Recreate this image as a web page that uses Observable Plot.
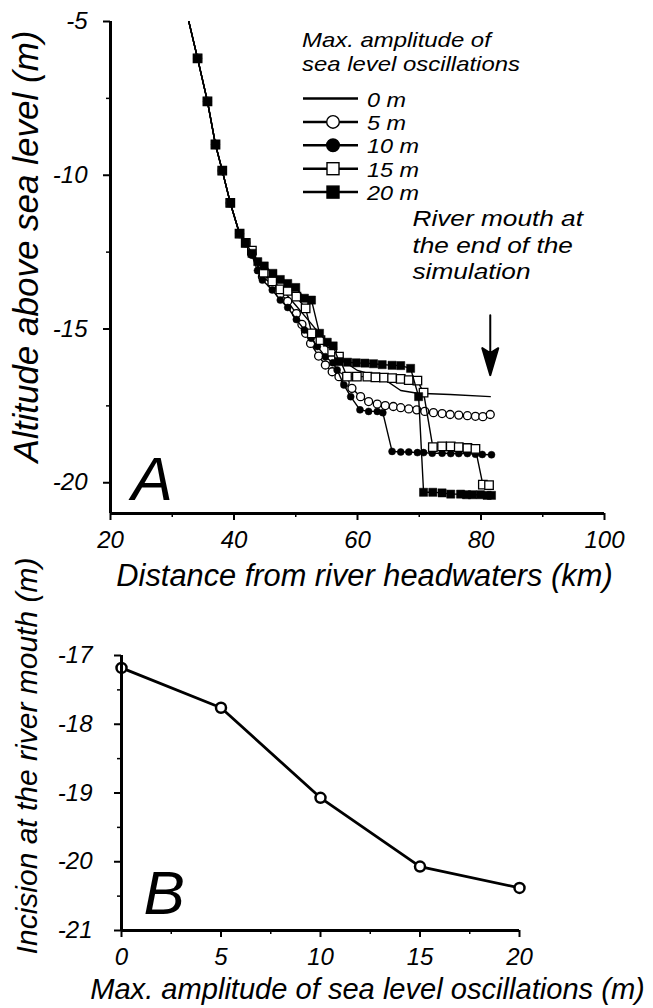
<!DOCTYPE html>
<html><head><meta charset="utf-8">
<script src="https://cdn.jsdelivr.net/npm/d3@7"></script>
<script src="https://cdn.jsdelivr.net/npm/@observablehq/plot@0.6"></script>
<style>
body{margin:0;background:#fff;}
#wrap{position:relative;width:653px;height:1008px;overflow:hidden;font-family:"Liberation Sans",Arial,sans-serif;background:#fff;}
#a{position:absolute;left:0;top:0}
#b{position:absolute;left:0;top:530px}
#legend{position:absolute;left:0;top:0}
</style></head><body><div id="wrap"><div id="a"></div><div id="b"></div><svg id="legend" width="653" height="210"></svg></div>
<script>
// ---------- Panel A data: distance (km) and altitude (m) ----------
const upperKm  = [31.5, 34.1, 35.7, 37.0, 38.1, 39.4, 40.9, 41.9];
const upperAlt = [-4.0, -6.2, -7.6, -9.0, -9.85, -10.9, -11.9, -12.2];

const km0  = [44.6, 47.5, 50.1, 52.4, 54.8, 57.0, 60.0, 63.7, 67.0, 69.7, 75.0, 81.5];
const alt0 = [-13.2, -13.65, -14.25, -14.8, -15.4, -15.95, -16.35, -16.55, -17.0, -17.09, -17.13, -17.2];

const km5  = [42.9, 44.6, 46.2, 47.5, 48.7, 50.1, 51.0, 51.6, 52.4, 53.7, 54.8, 55.9, 57.0, 58.0, 59.1, 60.5, 61.8, 63.2, 64.5, 65.8, 67.0, 68.3, 69.6, 70.9, 72.3, 73.7, 75.0, 76.4, 77.8, 79.1, 80.3, 81.5];
const alt5 = [-12.55, -13.3, -13.55, -13.85, -14.1, -14.5, -14.85, -15.14, -15.47, -15.88, -16.17, -16.39, -16.55, -16.75, -16.93, -17.2, -17.36, -17.44, -17.49, -17.52, -17.56, -17.6, -17.63, -17.68, -17.72, -17.75, -17.78, -17.8, -17.82, -17.84, -17.85, -17.78];

const km10  = [42.9, 43.8, 44.6, 46.2, 47.5, 48.7, 50.1, 51.4, 52.5, 53.5, 54.8, 56.0, 56.7, 57.8, 58.9, 60.4, 61.8, 63.2, 64.1, 65.6, 67.0, 68.3, 69.7, 70.7, 72.1, 73.7, 75.1, 76.4, 77.8, 79.1, 80.2, 81.7];
const alt10 = [-12.6, -13.1, -13.41, -13.73, -14.06, -14.3, -14.69, -15.03, -15.3, -15.57, -15.9, -16.1, -16.33, -16.82, -17.2, -17.63, -17.68, -17.68, -17.72, -18.98, -19.0, -19.0, -19.02, -19.02, -19.04, -19.04, -19.05, -19.05, -19.05, -19.07, -19.08, -19.09];

const km15  = [42.9, 44.8, 46.2, 47.5, 48.7, 50.1, 51.6, 52.6, 54.0, 55.9, 57.0, 58.3, 59.9, 61.6, 62.9, 64.3, 65.6, 67.0, 68.3, 69.7, 70.7, 72.2, 73.7, 75.1, 76.4, 77.8, 79.1, 80.3, 81.3];
const alt15 = [-12.45, -13.17, -13.45, -13.71, -13.76, -13.95, -14.33, -15.14, -15.36, -15.74, -15.9, -16.55, -16.55, -16.55, -16.57, -16.58, -16.6, -16.62, -16.66, -16.68, -17.07, -18.84, -18.82, -18.82, -18.84, -18.87, -18.9, -20.06, -20.08];

const km20  = [42.9, 43.85, 44.9, 46.3, 47.5, 48.7, 50.0, 51.4, 52.55, 53.85, 55.1, 56.06, 57.0, 58.4, 59.8, 61.2, 62.6, 64.0, 65.6, 67.0, 68.6, 69.9, 70.7, 72.2, 73.7, 75.1, 76.7, 77.65, 78.6, 79.9, 81.0, 81.7];
const alt20 = [-12.54, -12.81, -12.95, -13.19, -13.39, -13.52, -13.65, -14.0, -14.06, -15.14, -15.43, -15.55, -16.06, -16.08, -16.1, -16.11, -16.13, -16.16, -16.18, -16.19, -16.28, -17.2, -20.31, -20.31, -20.33, -20.37, -20.37, -20.39, -20.39, -20.39, -20.41, -20.41];

const amplitudes = [0, 5, 10, 15, 20];
const legendLabels = ["0 m", "5 m", "10 m", "15 m", "20 m"];
const legendTitle = ["Max. amplitude of", "sea level oscillations"];

const xTicksA = [20, 40, 60, 80, 100], xMinorA = [30, 50, 70, 90];
const yTicksA = [-5, -10, -15, -20], yMinorA = [-7.5, -12.5, -17.5];

const mouthKm = [81.5];          // river mouth position (arrow)
const mouthNote = "River mouth at\nthe end of the\nsimulation";

// ---------- Panel B data ----------
const ampB = [0, 5, 10, 15, 20];
const incisionB = [-17.18, -17.76, -19.07, -20.07, -20.38];
const xTicksB = [0, 5, 10, 15, 20], xMinorB = [2.5, 7.5, 12.5, 17.5];
const yTicksB = [-17, -18, -19, -20, -21], yMinorB = [-17.5, -18.5, -19.5, -20.5];

// ---------- build tables ----------
const seriesKm = [km0, km5, km10, km15, km20];
const seriesAlt = [alt0, alt5, alt10, alt15, alt20];
const rows = [];
amplitudes.forEach((a, i) => {
  const k = upperKm.concat(seriesKm[i]);
  const v = upperAlt.concat(seriesAlt[i]);
  k.forEach((d, j) => rows.push({amp: a, km: d, alt: v[j]}));
});
const rowsOf = a => rows.filter(r => r.amp === a);
const bRows = ampB.map((a, i) => ({amp: a, inc: incisionB[i]}));

const font = '"Liberation Sans", Arial, sans-serif';
const fmt = d => String(d);

// horizontally widen a text element (the figure's lettering is slightly stretched)
function widen(el, factor) {
  const w = el.getComputedTextLength();
  if (w > 0) { el.setAttribute("textLength", (w * factor).toFixed(1)); el.setAttribute("lengthAdjust", "spacingAndGlyphs"); }
}

const arrowShape = {
  draw(ctx, l) {
    ctx.moveTo(0, 0); ctx.lineTo(0, -l + 20);
    ctx.moveTo(0, -l);
    ctx.lineTo(-8, -l + 27);
    ctx.lineTo(0, -l + 22);
    ctx.lineTo(8, -l + 27);
    ctx.closePath();
  }
};

const markStyle = {
  5:  {symbol: "circle", r: 4.0, fill: "white", stroke: "black", strokeWidth: 1.3},
  10: {symbol: "circle", r: 3.5, fill: "black", stroke: "black", strokeWidth: 0.5},
  15: {symbol: "square", r: 4.8, fill: "white", stroke: "black", strokeWidth: 1.3},
  20: {symbol: "square", r: 4.6, fill: "black", stroke: "black", strokeWidth: 0.5}
};

const seriesMarks = [];
amplitudes.forEach(a => {
  const d = rowsOf(a);
  seriesMarks.push(Plot.line(d, {x: "km", y: "alt", stroke: "black", strokeWidth: 1.4, clip: true}));
  if (markStyle[a]) seriesMarks.push(Plot.dot(d, {x: "km", y: "alt", clip: true, ...markStyle[a]}));
});

const chartA = Plot.plot({
  width: 653, height: 590,
  marginLeft: 110, marginRight: 49, marginTop: 21, marginBottom: 77,
  x: {domain: [20, 100]},
  y: {domain: [-21, -5]},
  style: {fontFamily: font, fontStyle: "italic", fontSize: "24px", color: "black", background: "transparent", overflow: "visible"},
  marks: [
    ...seriesMarks,
    Plot.vector(mouthKm, {x: d => d, y: -14.55, length: 60, rotate: 180, anchor: "start", shape: arrowShape, stroke: "black", fill: "black", strokeWidth: 2}),
    Plot.text([mouthNote], {frameAnchor: "top-left", dx: 302, dy: 186, textAnchor: "start", lineAnchor: "top", lineHeight: 1.16, fontSize: 22.8, className: "note"}),
    Plot.text(["A"], {frameAnchor: "bottom-left", dx: 21, dy: -33, textAnchor: "start", lineAnchor: "middle", fontSize: 62}),
    Plot.axisX(xTicksA, {tickSize: 7, tickPadding: 10, strokeWidth: 2, tickFormat: fmt, label: null}),
    Plot.axisX(xMinorA, {tickSize: 4, strokeWidth: 1.5, tickFormat: () => "", label: null}),
    Plot.axisY(yTicksA, {tickSize: 7, tickPadding: 16, strokeWidth: 2, tickFormat: fmt, label: null}),
    Plot.axisY(yMinorA, {tickSize: 4, strokeWidth: 1.5, tickFormat: () => "", label: null}),
    Plot.ruleY([-21], {strokeWidth: 3}),
    Plot.ruleX([20], {strokeWidth: 3}),
    Plot.text(["Distance from river headwaters (km)"], {frameAnchor: "bottom", dx: 7, dy: 63, textAnchor: "middle", lineAnchor: "middle", fontSize: 30.8}),
    Plot.text(["Altitude above sea level (m)"], {frameAnchor: "left", rotate: -90, dx: -84, dy: -21, textAnchor: "middle", lineAnchor: "middle", fontSize: 35})
  ]
});
document.getElementById("a").append(chartA);
chartA.querySelectorAll(".note tspan, .note text").forEach(el => { if (!el.querySelector("tspan")) widen(el, 1.15); });

const chartB = Plot.plot({
  width: 653, height: 478,
  marginLeft: 121, marginRight: 134, marginTop: 125, marginBottom: 78,
  x: {domain: [0, 20]},
  y: {domain: [-21, -17]},
  style: {fontFamily: font, fontStyle: "italic", fontSize: "24px", color: "black", background: "transparent", overflow: "visible"},
  marks: [
    Plot.line(bRows, {x: "amp", y: "inc", stroke: "black", strokeWidth: 2.8}),
    Plot.dot(bRows, {x: "amp", y: "inc", r: 5, fill: "white", stroke: "black", strokeWidth: 2.5}),
    Plot.text(["B"], {frameAnchor: "bottom-left", dx: 22, dy: -36, textAnchor: "start", lineAnchor: "middle", fontSize: 62}),
    Plot.axisX(xTicksB, {tickSize: 7, tickPadding: 10, strokeWidth: 2, tickFormat: fmt, label: null}),
    Plot.axisX(xMinorB, {tickSize: 4, strokeWidth: 1.5, tickFormat: () => "", label: null}),
    Plot.axisY(yTicksB, {tickSize: 7, tickPadding: 22, strokeWidth: 2, tickFormat: fmt, label: null}),
    Plot.axisY(yMinorB, {tickSize: 4, strokeWidth: 1.5, tickFormat: () => "", label: null}),
    Plot.ruleY([-21], {strokeWidth: 3}),
    Plot.ruleX([0], {strokeWidth: 3}),
    Plot.text(["Max. amplitude of sea level oscillations (m)"], {frameAnchor: "bottom", dx: 47, dy: 59, textAnchor: "middle", lineAnchor: "middle", fontSize: 29.1}),
    Plot.text(["Incision at the river mouth (m)"], {frameAnchor: "left", rotate: -90, dx: -94, dy: -37, textAnchor: "middle", lineAnchor: "middle", fontSize: 30})
  ]
});
document.getElementById("b").append(chartB);

// ---------- legend (inside panel A) ----------
const lg = d3.select("#legend").style("font-family", font).style("font-style", "italic");
legendTitle.forEach((t, i) => {
  const el = lg.append("text").attr("x", 302).attr("y", 47 + i * 24).attr("font-size", 20.8).text(t).node();
  widen(el, 1.15);
});
const rowY = i => 98.5 + i * 23.4;
amplitudes.forEach((a, i) => {
  const y = rowY(i);
  lg.append("line").attr("x1", 303).attr("x2", 358).attr("y1", y).attr("y2", y).attr("stroke", "black").attr("stroke-width", 2.5);
  const s = markStyle[a];
  if (s) {
    if (s.symbol === "circle") lg.append("circle").attr("cx", 333).attr("cy", y).attr("r", 6.3).attr("fill", s.fill).attr("stroke", "black").attr("stroke-width", 1.4);
    else lg.append("rect").attr("x", 327).attr("y", y - 6).attr("width", 12).attr("height", 12).attr("fill", s.fill).attr("stroke", "black").attr("stroke-width", 1.4);
  }
  const el = lg.append("text").attr("x", 367).attr("y", y + 8).attr("font-size", 20.2).text(legendLabels[i]).node();
  widen(el, 1.16);
});
</script></body></html>
